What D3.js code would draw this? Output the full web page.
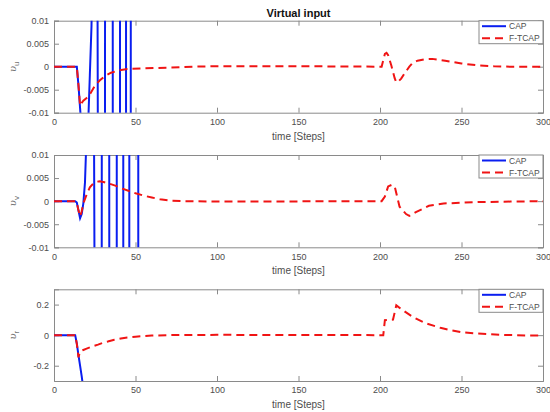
<!DOCTYPE html>
<html>
<head>
<meta charset="utf-8">
<script src="https://cdn.jsdelivr.net/npm/d3@7"></script>
<style>
  html, body { margin: 0; padding: 0; background: #fff; }
  svg { display: block; font-family: "Liberation Sans", Arial, Helvetica, sans-serif; }
</style>
</head>
<body>
<svg id="chart" width="550" height="412"></svg>
<script>
// ---- data: [step, value] pairs for each virtual input component ----
const seriesNames = ["CAP", "F-TCAP"];
const xTicks = [0, 50, 100, 150, 200, 250, 300];

// v_u
const uCap = [[0,0],[14,0],[15,-0.004],[16,-0.009],[17,-0.014],[18,-0.018],[19,-0.02],[20,-0.019],
  [21,-0.0122],[22,-0.0017],[23,0.0088],[24,0.03],[25,0.08],[26,0.12],[27,-0.03],[28,-0.15],
  [29,-0.3],[30,-0.35],[31,-0.21],[32,0.49],[33,1.0],[34,1.4],[35,1.5],[36,0.1],[37,-2],
  [38,-3],[39,-3],[40,-2],[41,2],[42,3],[43,2],[44,0.5],[45,-2],[46,-2],[47,-0.2],[48,1.8],[49,4]];
const uFtcap = [[0,0],[14,0],[15,-0.004],[16,-0.0085],[17,-0.0079],[18,-0.0074],[20,-0.0068],
  [22,-0.006],[25,-0.0042],[28,-0.003],[31,-0.0021],[35,-0.0013],[40,-0.0008],[45,-0.0005],
  [55,-0.00037],[70,-0.0002],[85,0],[100,0.0001],[150,0.0001],[180,0.00005],[201,0],
  [203,0.0028],[204,0.003],[205,0.0025],[207,0.0002],[209,-0.0025],[210,-0.0034],[211,-0.0033],
  [213,-0.0026],[215,-0.0015],[218,0],[220,0.0008],[223,0.0013],[227,0.0016],[232,0.0017],
  [240,0.0013],[250,0.0007],[260,0.0003],[270,0.0001],[280,0],[300,0]];
const uTicks = [-0.01, -0.005, 0, 0.005, 0.01];

// v_v
const vCap = [[0,0],[13,0],[14,-0.0003],[15,-0.002],[16,-0.0037],[17,-0.0028],[18,-0.0005],
  [19,0.004],[20,0.0145],[21,0.03],[22,0.05],[23,0.06],[24,0.07],[25,-0.03],[26,-0.1],[27,-0.2],
  [28,-0.3],[29,-0.21],[30,0.49],[31,0.8],[32,1],[33,0.9],[34,-0.1],[35,-1],[36,-1.5],[37,-1.5],
  [38,-1],[39,1],[40,2],[41,2],[42,1],[43,-1],[44,-2],[45,-2],[46,-0.4],[47,1.6],[48,3],[49,4],
  [50,4],[51,2.8],[52,-1.2],[53,-5]];
const vFtcap = [[0,0],[13,0],[14,-0.0003],[15,-0.002],[16,-0.0033],[17,-0.0022],[18,-0.0005],
  [20,0.0014],[22,0.003],[24,0.0038],[26,0.0042],[28,0.0043],[31,0.0041],[34,0.0038],[38,0.0033],
  [42,0.0027],[46,0.0022],[50,0.0017],[55,0.0012],[60,0.0008],[65,0.0004],[72,0.0001],[80,0],
  [100,-0.0001],[150,-0.00005],[201,0],[203,0.001],[205,0.0032],[207,0.0035],[209,0.0032],
  [212,-0.0012],[216,-0.0028],[218,-0.0032],[222,-0.0024],[230,-0.001],[239,-0.0005],
  [260,-0.0002],[280,-0.0001],[300,0]];
const vTicks = [-0.01, -0.005, 0, 0.005, 0.01];

// v_r
const rCap = [[0,0],[13,0],[14,-0.055],[15,-0.13],[16,-0.2],[17,-0.27],[18,-0.35],[19,-0.45]];
const rFtcap = [[0,0],[13,0],[14,-0.055],[15,-0.145],[16,-0.11],[17,-0.102],[18,-0.097],
  [20,-0.088],[24,-0.072],[27,-0.062],[30,-0.05],[33,-0.042],[37,-0.03],[41,-0.022],[45,-0.015],
  [50,-0.01],[55,-0.006],[60,-0.003],[70,0],[80,0.001],[100,0.002],[150,0.001],[202,0],
  [203,0.098],[208,0.102],[210,0.195],[213,0.17],[220,0.12],[228,0.078],[237,0.048],[243,0.033],
  [251,0.018],[259,0.011],[275,0.002],[290,-0.002],[300,-0.002]];
const rTicks = [-0.2, 0, 0.2];

const panels = [
  { sub: "u", cap: uCap, ftcap: uFtcap, domain: [-0.01, 0.01], ticks: uTicks, top: 20.7, bottom: 112.7, title: "Virtual input" },
  { sub: "v", cap: vCap, ftcap: vFtcap, domain: [-0.01, 0.01], ticks: vTicks, top: 155, bottom: 247.3 },
  { sub: "r", cap: rCap, ftcap: rFtcap, domain: [-0.3, 0.3], ticks: rTicks, top: 289.3, bottom: 381 }
];

// ---- drawing ----
const svg = d3.select("#chart");
const left = 54, right = 543;
const axisColor = "#8a8a8a", textColor = "#4d4d4d";
const capColor = "#0a1ef0", ftColor = "#f01414";
const fmt = v => String(v);

const x = d3.scaleLinear().domain([0, 300]).range([left, right]);

panels.forEach((p, i) => {
  const y = d3.scaleLinear().domain(p.domain).range([p.bottom, p.top]);
  const g = svg.append("g");
  const clipId = "clip" + i;
  svg.append("clipPath").attr("id", clipId)
    .append("rect").attr("x", left).attr("y", p.top)
    .attr("width", right - left).attr("height", p.bottom - p.top);

  // axes: bottom/left with labels, top/right as mirror ticks (inward)
  const tl = 5;
  g.append("g").attr("transform", `translate(0,${p.bottom})`)
    .call(d3.axisBottom(x).tickValues(xTicks).tickSize(-tl).tickPadding(6).tickFormat(fmt));
  g.append("g").attr("transform", `translate(0,${p.top})`)
    .call(d3.axisTop(x).tickValues(xTicks).tickSize(-tl).tickFormat(""));
  g.append("g").attr("transform", `translate(${left},0)`)
    .call(d3.axisLeft(y).tickValues(p.ticks).tickSize(-tl).tickPadding(5).tickFormat(fmt));
  g.append("g").attr("transform", `translate(${right},0)`)
    .call(d3.axisRight(y).tickValues(p.ticks).tickSize(-tl).tickFormat(""));
  g.selectAll(".domain").attr("stroke", axisColor).attr("stroke-width", 1);
  g.selectAll(".tick line").attr("stroke", axisColor);
  g.selectAll(".tick text").attr("fill", textColor).attr("font-size", 9)
    .attr("font-family", "Liberation Sans, Arial, sans-serif");

  const line = d3.line().x(d => x(d[0])).y(d => y(d[1]));
  const plot = g.append("g").attr("clip-path", `url(#${clipId})`);
  plot.append("path").datum(p.cap).attr("d", line)
    .attr("fill", "none").attr("stroke", capColor).attr("stroke-width", 2);
  plot.append("path").datum(p.ftcap).attr("d", line)
    .attr("fill", "none").attr("stroke", ftColor).attr("stroke-width", 2)
    .attr("stroke-dasharray", "8,5");

  // x label
  g.append("text").attr("x", (left + right) / 2).attr("y", p.bottom + 27)
    .attr("text-anchor", "middle").attr("fill", textColor).attr("font-size", 10)
    .text("time [Steps]");

  // y label: upsilon with subscript, rotated
  const yl = g.append("text")
    .attr("transform", `translate(16,${(p.top + p.bottom) / 2}) rotate(-90)`)
    .attr("text-anchor", "middle").attr("fill", "#777").attr("font-size", 10)
    .attr("font-family", "DejaVu Serif, serif").attr("font-style", "italic");
  yl.append("tspan").text("υ");
  yl.append("tspan").attr("font-size", 8).attr("font-style", "normal")
    .attr("font-family", "Liberation Sans, Arial, sans-serif").attr("dy", 3).text(p.sub);

  if (p.title) {
    g.append("text").attr("x", (left + right) / 2).attr("y", 17)
      .attr("text-anchor", "middle").attr("font-weight", "bold").attr("font-size", 11)
      .attr("fill", "#111").text(p.title);
  }

  // legend
  const lg = g.append("g").attr("transform", `translate(479,${p.top})`);
  lg.append("rect").attr("x", 0).attr("y", 0).attr("width", right - 479).attr("height", 23)
    .attr("fill", "#fff").attr("stroke", axisColor).attr("stroke-width", 1);
  seriesNames.forEach((name, k) => {
    const yy = 5.5 + k * 12;
    lg.append("line").attr("x1", 3).attr("x2", 27).attr("y1", yy).attr("y2", yy)
      .attr("stroke", k === 0 ? capColor : ftColor).attr("stroke-width", 2)
      .attr("stroke-dasharray", k === 0 ? null : "8,5");
    lg.append("text").attr("x", 30).attr("y", yy + 3).attr("font-size", 8.5)
      .attr("fill", textColor).text(name);
  });
});
</script>
</body>
</html>
